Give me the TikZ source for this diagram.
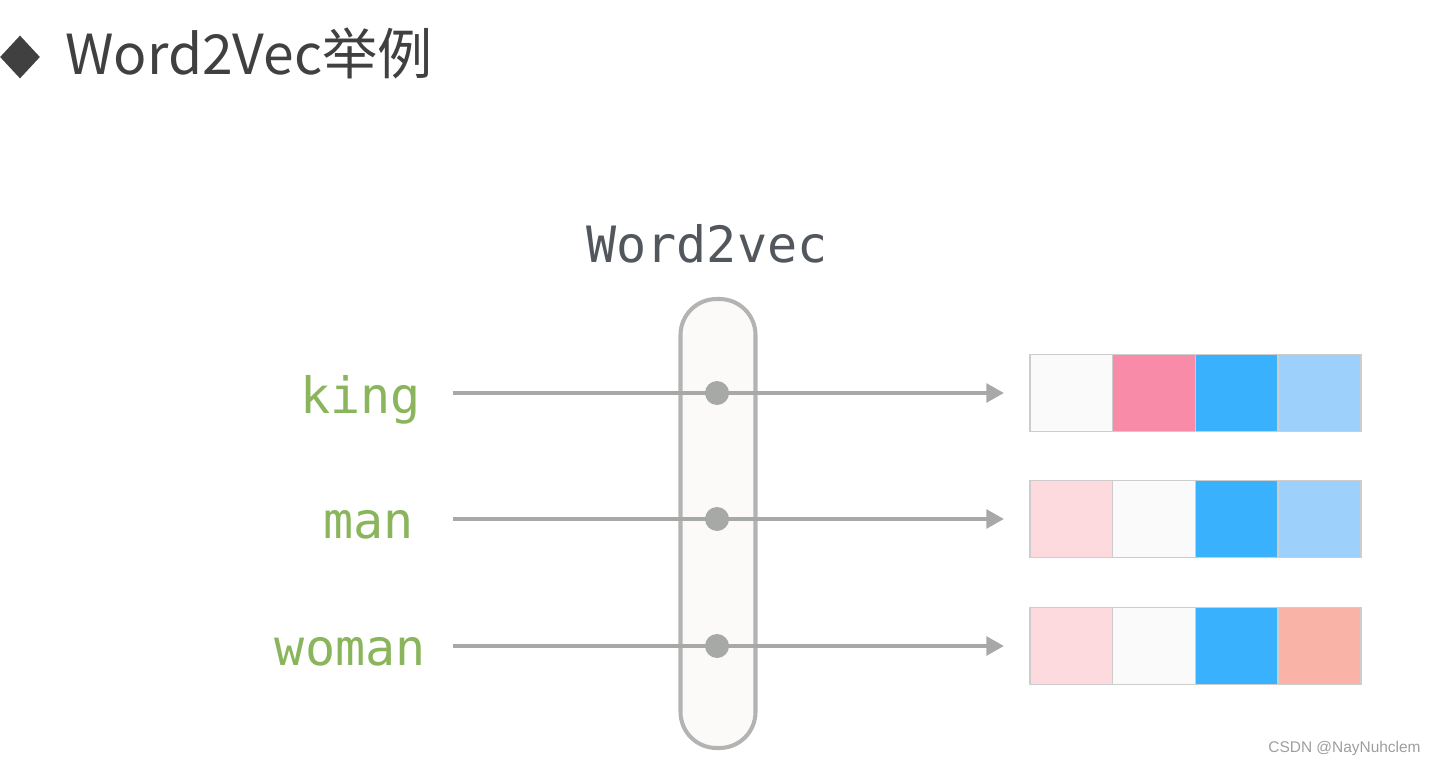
\documentclass[tikz,border=0pt]{standalone}
\usepackage{fontspec}
\setmonofont{DejaVu Sans Mono}
\newfontfamily\cjk{Noto Sans CJK SC}
\newfontfamily\markfont{Liberation Sans}
\usepackage{tikz}
\usetikzlibrary{arrows.meta,shapes.geometric,positioning}
\usepackage{xcolor}

\definecolor{wordgreen}{HTML}{8AB55C}
\definecolor{linegray}{HTML}{A7A9A7}
\definecolor{pillgray}{HTML}{B2B3B2}
\definecolor{pillfill}{HTML}{FBFAF8}
\definecolor{titlegray}{HTML}{404040}
\definecolor{headgray}{HTML}{52575D}
\definecolor{cellline}{HTML}{CDCDCD}
\definecolor{cwhite}{HTML}{FAFAFA}
\definecolor{cpink}{HTML}{F78BA8}
\definecolor{cpale}{HTML}{FCDADE}
\definecolor{cblue}{HTML}{3AB1FC}
\definecolor{clblue}{HTML}{9DD1FC}
\definecolor{csalmon}{HTML}{FAB3A7}

\newlength\pxu
\setlength\pxu{0.02cm}

\begin{document}
\begin{tikzpicture}[
  x=\pxu, y=-\pxu,
  word/.style={font=\ttfamily\fontsize{28.5}{30}\selectfont, text=wordgreen, inner sep=0pt, anchor=base east},
  cell/.style={draw=cellline, line width=0.8pt, minimum width=82.7\pxu, minimum height=77\pxu, inner sep=0pt, outer sep=0pt},
  dot/.style={circle, fill=linegray, minimum size=24\pxu, inner sep=0pt},
  arr/.style={-{Triangle[length=10pt, width=10.5pt]}, line width=2.3pt, draw=linegray, shorten >=26\pxu},
  node distance=0pt
]
\useasboundingbox (0,0) rectangle (1436,763);

% title
\node[diamond, fill=titlegray, minimum width=40\pxu, minimum height=43\pxu, inner sep=0pt] (bullet) at (20,57) {};
\node[anchor=base west, inner sep=0pt, text=titlegray, font=\cjk\fontsize{31.4}{34}\selectfont] (title) at (65,75) {Word2Vec举例};

% model
\node[font=\ttfamily\fontsize{28.5}{30}\selectfont, text=headgray, inner sep=0pt, anchor=base] (w2v) at (707,263) {Word2vec};
\node[draw=pillgray, fill=pillfill, line width=2.3pt, rounded corners=36\pxu,
      minimum width=75\pxu, minimum height=449\pxu, inner sep=0pt] (pill) at (718,523.5) {};

% words
\node[word] (king) at (421,413) {king};
\node[word] (man) at (414,538) {man};
\node[word] (woman) at (426,665) {woman};

% vectors
\node[cell, fill=cwhite, anchor=west] (k1) at (1030,393) {};
\node[cell, fill=cpink, right=of k1] (k2) {};
\node[cell, fill=cblue, right=of k2] (k3) {};
\node[cell, fill=clblue, right=of k3] (k4) {};

\node[cell, fill=cpale, anchor=west] (m1) at (1030,519) {};
\node[cell, fill=cwhite, right=of m1] (m2) {};
\node[cell, fill=cblue, right=of m2] (m3) {};
\node[cell, fill=clblue, right=of m3] (m4) {};

\node[cell, fill=cpale, anchor=west] (wo1) at (1030,646) {};
\node[cell, fill=cwhite, right=of wo1] (wo2) {};
\node[cell, fill=cblue, right=of wo2] (wo3) {};
\node[cell, fill=csalmon, right=of wo3] (wo4) {};

% connectors
\coordinate (kin) at (453,393);
\coordinate (min) at (453,519);
\coordinate (woin) at (453,646);
\draw[arr] (kin) -- (k1);
\draw[arr] (min) -- (m1);
\draw[arr] (woin) -- (wo1);

\node[dot] (kdot) at (717,393) {};
\node[dot] (mdot) at (717,519) {};
\node[dot] (wodot) at (717,646) {};

\node[anchor=base east, inner sep=0pt, text=black!38, font=\markfont\fontsize{8.8}{10}\selectfont] (mark) at (1421,752) {CSDN @NayNuhclem};
\end{tikzpicture}
\end{document}
